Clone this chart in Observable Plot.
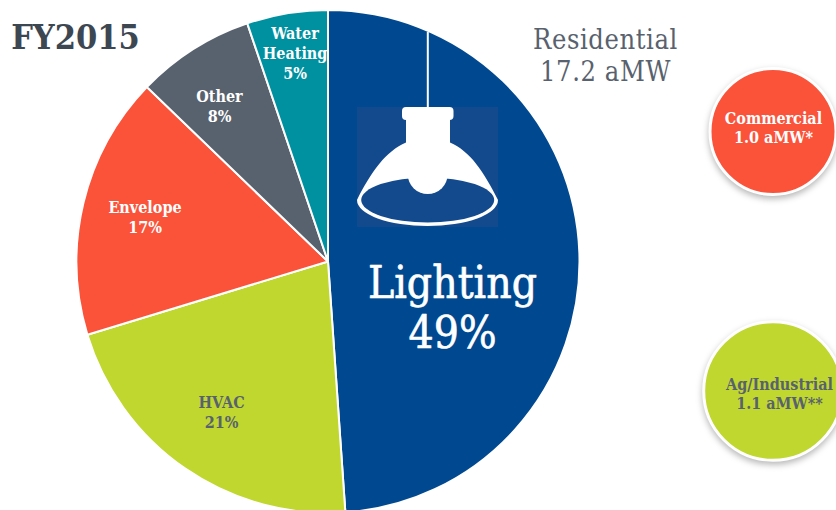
<!DOCTYPE html>
<html><head><meta charset="utf-8">
<script src="https://cdn.jsdelivr.net/npm/d3@7"></script>
<script src="https://cdn.jsdelivr.net/npm/@observablehq/plot@0.6"></script>
<style>
html,body{margin:0;padding:0;background:#fff;overflow:hidden}
svg{display:block}
.bubble circle{filter:drop-shadow(0 3px 3px rgba(0,0,0,.28))}
.spaced text{letter-spacing:.6px}
</style></head><body>
<script>
// Data
const endUses = ["Lighting", "HVAC", "Envelope", "Other", "Water Heating"];
const endUseShares = [48.9, 21.4, 16.9, 7.6, 5.2];
const sectors = ["Commercial", "Ag/Industrial"];
const sectorSavings = [1.0, 1.1];
const sectorNotes = ["*", "**"];
const residentialSavings = 17.2;
const titleText = "FY2015";

// Layout and style tables
const FONT = "'DejaVu Serif Condensed','DejaVu Serif',serif";
const sliceColors = ["#004990", "#c0d72f", "#fb523a", "#58626e", "#0091a0"];
const pieLayout = {cx: 328, cy: 261.5, r: 251.5};
const sliceLabelLayout = [
  {x: 452, y: 306.5, fill: "#fff"},
  {x: 221, y: 411, fill: "#58626e"},
  {x: 144.5, y: 216, fill: "#fff"},
  {x: 219, y: 105, fill: "#fff"},
  {x: 294.5, y: 52.5, fill: "#fff"}
];
const bubbleLayout = [
  {x: 772.5, y: 131, fill: "#fb523a", text: "#fff", tx: 773, ty: 126.5},
  {x: 772.5, y: 390.5, fill: "#c0d72f", text: "#58626e", tx: 779, ty: 393}
];

const sliceRows = endUses.map((name, i) => ({
  name, share: endUseShares[i], ...sliceLabelLayout[i],
  label: (name === "Water Heating" ? "Water\nHeating" : name) + "\n" + Math.round(endUseShares[i]) + "%"
}));
const bubbleRows = sectors.map((name, i) => ({
  name, value: sectorSavings[i], ...bubbleLayout[i],
  label: name + "\n" + sectorSavings[i].toFixed(1) + " aMW" + sectorNotes[i]
}));

// Pie wedges, derived from the shares with d3.pie / d3.arc
function pieMark() {
  const g = d3.create("svg:g");
  const arcs = d3.pie().sort(null).value(d => d.share)(sliceRows);
  const arc = d3.arc().innerRadius(0).outerRadius(pieLayout.r);
  g.attr("transform", `translate(${pieLayout.cx},${pieLayout.cy})`)
    .selectAll("path").data(arcs).join("path")
    .attr("d", arc).attr("fill", d => sliceColors[d.index])
    .attr("stroke", "#fff").attr("stroke-width", 2).attr("stroke-linejoin", "round");
  return g.node();
}

// Pendant lamp pictogram
function lampMark() {
  const g = d3.create("svg:g");
  g.append("rect").attr("x", 357).attr("y", 107).attr("width", 141).attr("height", 120).attr("fill", "#134a8e");
  g.append("line").attr("x1", 427.8).attr("x2", 427.8).attr("y1", 32).attr("y2", 108).attr("stroke", "#fff").attr("stroke-width", 2);
  g.append("rect").attr("x", 402).attr("y", 107).attr("width", 51.5).attr("height", 13).attr("rx", 4).attr("fill", "#fff");
  g.append("path").attr("fill", "#fff")
    .attr("d", "M406 115H450V142.5C470 151 484 172 498 200A70.5 26 0 1 1 357 200C371 172 386 151 406 142.5Z");
  g.append("ellipse").attr("cx", 427.7).attr("cy", 200).attr("rx", 66.5).attr("ry", 22.5).attr("fill", "#134a8e");
  g.append("circle").attr("cx", 427.7).attr("cy", 174).attr("r", 20).attr("fill", "#fff");
  return g.node();
}

const big = d => d.name === "Lighting";
const chart = Plot.plot({
  width: 836, height: 510, margin: 0,
  x: {type: "identity", axis: null}, y: {type: "identity", axis: null},
  r: {type: "linear", domain: [0, 1], range: [0, 63]},
  style: {background: "#fff"},
  marks: [
    pieMark,
    lampMark,
    Plot.dot(bubbleRows, {x: "x", y: "y", r: "value", fill: "fill", stroke: "#fff", strokeWidth: 3, className: "bubble"}),
    Plot.text(sliceRows.filter(big), {x: "x", y: "y", text: "label", fill: "fill", stroke: "#fff", strokeWidth: 0.6, fontSize: 44, fontFamily: FONT, lineHeight: 1.14}),
    Plot.text(sliceRows.filter(d => !big(d)), {x: "x", y: "y", text: "label", fill: "fill", fontSize: 16, fontFamily: FONT, fontWeight: 700, lineHeight: 1.25}),
    Plot.text(bubbleRows, {x: "tx", y: "ty", text: "label", fill: "text", fontSize: 16, fontFamily: FONT, fontWeight: 700, lineHeight: 1.2}),
    Plot.text([titleText], {x: 75, y: 38, text: d => d, fontSize: 34, fontFamily: FONT, fontWeight: 700, fill: "#3d4752"}),
    Plot.text(["Residential\n" + residentialSavings + " aMW"], {x: 605, y: 54.5, text: d => d, fontSize: 27, fontFamily: FONT, fill: "#58626e", lineHeight: 1.18, className: "spaced"})
  ]
});
document.body.append(chart);
</script>
</body></html>
